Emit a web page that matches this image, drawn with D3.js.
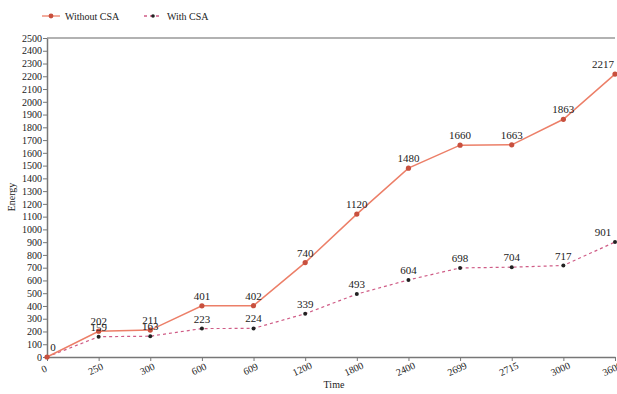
<!DOCTYPE html>
<html>
<head>
<meta charset="utf-8">
<script src="https://cdn.jsdelivr.net/npm/d3@7"></script>
<style>
  body { margin: 0; background: #fff; }
  svg text { font-family: 'Liberation Serif', 'Times New Roman', 'DejaVu Serif', serif !important; fill: #222; }
</style>
</head>
<body>
<div id="chart"></div>
<script>
// chart data
const times = ["0", "250", "300", "600", "609", "1200", "1800", "2400", "2699", "2715", "3000", "3600"];
const withoutCSA = [0, 202, 211, 401, 402, 740, 1120, 1480, 1660, 1663, 1863, 2217];
const withCSA = [0, 159, 163, 223, 224, 339, 493, 604, 698, 704, 717, 901];
const yTicks = d3.range(0, 2501, 100);

const width = 617, height = 394;
const margin = { top: 38, right: 2, bottom: 37, left: 47 };
const serif = "'Liberation Serif', 'Times New Roman', serif";

const svg = d3.select('#chart')
    .append('svg')
    .attr('width', width)
    .attr('height', height)
    .attr('font-family', serif);

const x = d3.scalePoint()
    .domain(times)
    .range([margin.left, width - margin.right]);

const y = d3.scaleLinear()
    .domain([0, 2500])
    .range([height - margin.bottom, margin.top]);

// frame top line
svg.append('line')
    .attr('x1', margin.left).attr('x2', width - margin.right)
    .attr('y1', margin.top).attr('y2', margin.top)
    .attr('stroke', '#999').attr('stroke-width', 1.5);

// y axis
const yAxis = svg.append('g')
    .attr('transform', `translate(${margin.left},0)`)
    .call(d3.axisLeft(y).tickValues(yTicks).tickFormat(d3.format('d')).tickSize(4).tickSizeOuter(0))
    .attr('font-family', serif);
yAxis.select('.domain').attr('stroke', '#777').attr('stroke-width', 1.5);
yAxis.selectAll('.tick line').attr('stroke', '#777');
yAxis.selectAll('text').attr('font-size', 10).attr('x', -5).attr('fill', '#222');

// x axis
const xAxis = svg.append('g')
    .attr('transform', `translate(0,${height - margin.bottom})`)
    .call(d3.axisBottom(x).tickSize(4).tickSizeOuter(0))
    .attr('font-family', serif);
xAxis.select('.domain').attr('stroke', '#777').attr('stroke-width', 1.5);
xAxis.selectAll('.tick line').attr('stroke', '#777');
xAxis.selectAll('text')
    .attr('font-size', 10)
    .attr('fill', '#222')
    .attr('dy', 0)
    .attr('y', 0)
    .attr('text-anchor', 'middle')
    .attr('transform', 'translate(-2,15) rotate(-25)');

// axis titles
svg.append('text')
    .attr('x', (margin.left + width) / 2 + 2)
    .attr('y', 388)
    .attr('text-anchor', 'middle')
    .attr('font-size', 10)
    .text('Time');

svg.append('text')
    .attr('transform', 'translate(15,197) rotate(-90)')
    .attr('text-anchor', 'middle')
    .attr('font-size', 10)
    .text('Energy');

const line = d3.line()
    .x((d, i) => x(times[i]))
    .y(d => y(d));

// With CSA series
svg.append('path')
    .datum(withCSA)
    .attr('d', line)
    .attr('fill', 'none')
    .attr('stroke', '#cf5c86')
    .attr('stroke-width', 1.2)
    .attr('stroke-dasharray', '3,3');

svg.selectAll('.dot-with')
    .data(withCSA)
    .enter()
    .append('circle')
    .attr('cx', (d, i) => x(times[i]))
    .attr('cy', d => y(d))
    .attr('r', 2)
    .attr('fill', '#222');

// Without CSA series
svg.append('path')
    .datum(withoutCSA)
    .attr('d', line)
    .attr('fill', 'none')
    .attr('stroke', '#ec7f68')
    .attr('stroke-width', 1.5);

svg.selectAll('.dot-without')
    .data(withoutCSA)
    .enter()
    .append('circle')
    .attr('cx', (d, i) => x(times[i]))
    .attr('cy', d => y(d))
    .attr('r', 2.6)
    .attr('fill', '#c8503e');

// value labels
function addLabels(values, skipZero) {
    const pts = values.map((v, i) => ({ v, i })).filter(p => !(skipZero && p.i === 0));
    svg.append('g')
        .selectAll('text')
        .data(pts)
        .enter()
        .append('text')
        .attr('x', p => {
            const px = x(times[p.i]);
            if (p.i === 0) return px + 6;
            if (p.i === times.length - 1) return px - 12;
            return px;
        })
        .attr('y', p => y(p.v) - 6)
        .attr('text-anchor', 'middle')
        .attr('font-size', 11)
        .text(p => p.v);
}
addLabels(withCSA, true);
addLabels(withoutCSA, false);

// legend
const legend = [
    { name: 'Without CSA', color: '#ec7f68', dot: '#c8503e', dash: null, r: 2.4, x: 42 },
    { name: 'With CSA', color: '#cf5c86', dot: '#222', dash: '3,3', r: 1.8, x: 144 }
];
legend.forEach(l => {
    const g = svg.append('g').attr('transform', `translate(${l.x},16)`);
    g.append('line')
        .attr('x1', 0).attr('x2', 18)
        .attr('stroke', l.color).attr('stroke-width', 1.3)
        .attr('stroke-dasharray', l.dash);
    g.append('circle').attr('cx', 9).attr('r', l.r).attr('fill', l.dot);
    g.append('text')
        .attr('x', 23).attr('y', 3.5)
        .attr('font-size', 10)
        .text(l.name);
});
</script>
</body>
</html>
